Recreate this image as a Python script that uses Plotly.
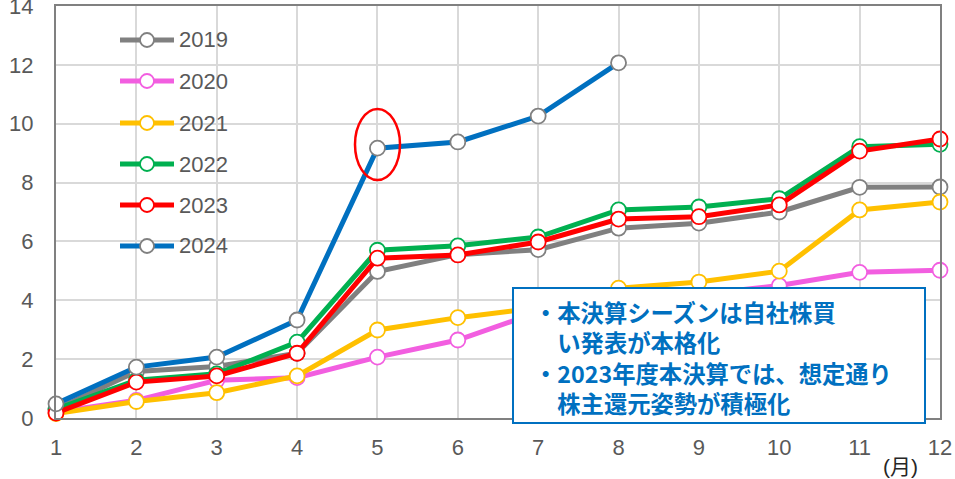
import plotly.graph_objects as go

months = list(range(1, 13))
years = ["2019", "2020", "2021", "2022", "2023", "2024"]
y2019 = [0.30, 1.58, 1.75, 2.20, 4.98, 5.55, 5.72, 6.45, 6.62, 7.00, 7.84, 7.85]
y2020 = [0.20, 0.60, 1.28, 1.37, 2.07, 2.65, 3.60, 3.90, 4.20, 4.50, 4.95, 5.02]
y2021 = [0.15, 0.56, 0.86, 1.43, 2.99, 3.41, 3.75, 4.41, 4.62, 4.99, 7.07, 7.34]
y2022 = [0.30, 1.28, 1.50, 2.58, 5.70, 5.85, 6.15, 7.07, 7.17, 7.45, 9.22, 9.30]
y2023 = [0.17, 1.22, 1.43, 2.20, 5.43, 5.54, 5.98, 6.76, 6.84, 7.24, 9.07, 9.48]
y2024 = [0.48, 1.73, 2.07, 3.33, 9.17, 9.38, 10.26, 12.07, None, None, None, None]
series = [y2019, y2020, y2021, y2022, y2023, y2024]
colors = ["#808080", "#F25EE0", "#FFC000", "#00B050", "#FF0000", "#0070C0"]
mcolors = ["#808080", "#F25EE0", "#FFC000", "#00B050", "#FF0000", "#808080"]
y_ticks = [0, 2, 4, 6, 8, 10, 12, 14]
note_text = ("・本決算シーズンは自社株買<br>　い発表が本格化<br>"
             "・2023年度本決算では、想定通り<br>　株主還元姿勢が積極化")

W, H = 955, 479
L, R, T, B = 56, 940, 6, 418
def px(x):
    return (x - L) / (R - L)
def py(y):
    return (B - y) / (B - T)

fig = go.Figure()
for name, ys, c, mc in zip(years, series, colors, mcolors):
    fig.add_trace(go.Scatter(
        x=months, y=ys, name=name, mode="lines+markers",
        line=dict(color=c, width=5),
        marker=dict(symbol="circle", size=15, color="white", line=dict(color=mc, width=1.8)),
        cliponaxis=False, showlegend=False,
    ))

shapes = []
annotations = []
# manual legend
rows = [40, 81, 123, 164, 205, 246]
for name, c, mc, ry in zip(years, colors, mcolors, rows):
    shapes.append(dict(type="line", xref="paper", yref="paper", x0=px(120), x1=px(174), y0=py(ry), y1=py(ry),
                       line=dict(color=c, width=5)))
    shapes.append(dict(type="circle", xref="paper", yref="paper", x0=px(140), x1=px(154), y0=py(ry + 7), y1=py(ry - 7),
                       fillcolor="white", line=dict(color=mc, width=1.8)))
    annotations.append(dict(text=name, xref="paper", yref="paper", x=px(177), y=py(ry), xanchor="left", yanchor="middle",
                            showarrow=False, font=dict(size=22, color="#595959", family="Liberation Sans, Arial")))

# red ellipse
shapes.append(dict(type="circle", xref="paper", yref="paper", x0=px(355), x1=px(400), y0=py(180), y1=py(109),
                   line=dict(color="#FF0000", width=2.5)))
# note box
shapes.append(dict(type="rect", xref="paper", yref="paper", x0=px(513), x1=px(925), y0=py(423), y1=py(288),
                   fillcolor="white", line=dict(color="#0070C0", width=2), layer="above"))
jfont = dict(size=23.3, color="#0070C0", family="Noto Sans CJK JP, sans-serif", weight="bold")
annotations.append(dict(text=note_text, xref="paper", yref="paper", x=px(532), y=py(357), xanchor="left",
                        yanchor="middle", align="left", showarrow=False, font=jfont))
annotations.append(dict(text="(月)", xref="paper", yref="paper", x=px(900), y=py(466), xanchor="center", yanchor="middle",
                        showarrow=False, font=dict(size=21, color="#262626", family="Liberation Sans, Noto Sans CJK JP, sans-serif")))

fig.update_layout(
    width=W, height=H,
    margin=dict(l=L, r=W - R, t=T, b=H - B, autoexpand=False),
    paper_bgcolor="white", plot_bgcolor="white",
    shapes=shapes, annotations=annotations,
    font=dict(family="Liberation Sans, Arial", size=22, color="#595959"),
)
fig.update_xaxes(range=[1, 12], tickvals=months, showgrid=True, gridcolor="#D9D9D9", gridwidth=1.5,
                 showline=True, linecolor="#808080", linewidth=2, mirror=True, ticks="", ticklabelstandoff=9,
                 zeroline=False, automargin=False, ticklabeloverflow="allow", tickfont=dict(size=22, color="#595959"))
fig.update_yaxes(range=[0, 14], tickvals=y_ticks, showgrid=True, gridcolor="#D9D9D9", gridwidth=1.5,
                 showline=True, linecolor="#808080", linewidth=2, mirror=True, ticks="", ticklabelstandoff=16,
                 zeroline=False, automargin=False, ticklabeloverflow="allow", tickfont=dict(size=22, color="#595959"))
fig.write_html("out.html", config={"displayModeBar": False},
               post_script="document.body.style.margin='0';document.body.style.overflow='hidden';")
